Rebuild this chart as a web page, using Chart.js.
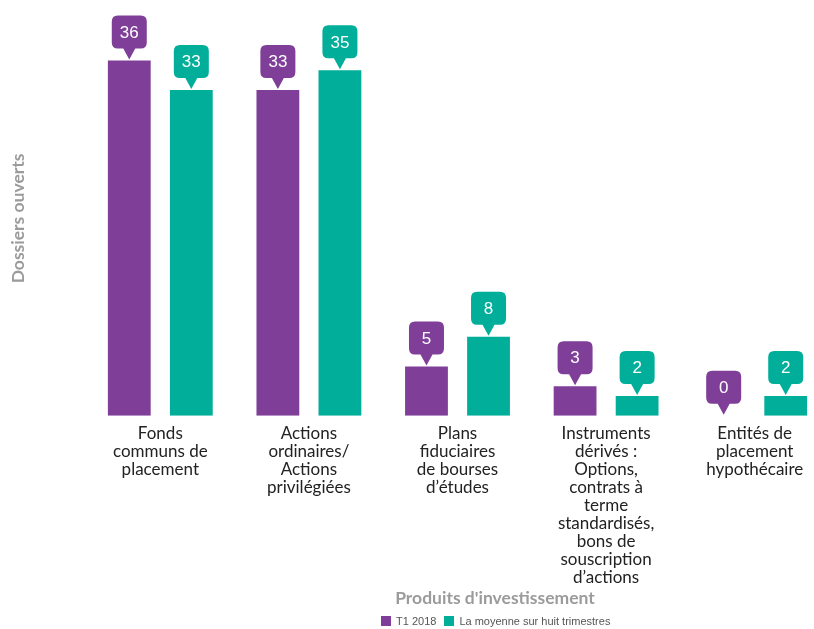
<!DOCTYPE html>
<html lang="fr">
<head>
<meta charset="utf-8">
<script src="https://cdn.jsdelivr.net/npm/chart.js@4.4.1/dist/chart.umd.min.js"></script>
<style>
    html, body { margin: 0; padding: 0; background: #fff; overflow: hidden; }
    #wrap { position: relative; width: 814px; height: 629px; overflow: hidden; }
    #chart { position: absolute; left: 0; top: 0; }
    #x-title {
        position: absolute; left: 395px; width: 200px; top: 587px;
        text-align: center; font: bold 17.5px Lato, sans-serif; color: #9b9b9b;
        white-space: nowrap;
    }
    #legend {
        position: absolute; left: 381px; top: 615px;
        font: 11px "Liberation Sans", Arial, sans-serif; color: #555;
        display: flex; align-items: center; white-space: nowrap;
    }
    #legend span.box { display: inline-block; width: 10px; height: 10px; margin-right: 5px; }
    #legend span.item { display: flex; align-items: center; margin-right: 8px; }
</style>
</head>
<body>
<div id="wrap">
    <canvas id="chart" width="840" height="629"></canvas>
    <div id="x-title">Produits d'investissement</div>
    <div id="legend"></div>
</div>
<script>
// Categories and series
const categories = [
    ["Fonds", "communs de", "placement"],
    ["Actions", "ordinaires/", "Actions", "privilégiées"],
    ["Plans", "fiduciaires", "de bourses", "d’études"],
    ["Instruments", "dérivés :", "Options,", "contrats à", "terme", "standardisés,", "bons de", "souscription", "d’actions"],
    ["Entités de", "placement", "hypothécaire"]
];
const seriesNames = ["T1 2018", "La moyenne sur huit trimestres"];
const q1Values = [36, 33, 5, 3, 0];
const avgValues = [33, 35, 8, 2, 2];
const colors = ["#7f3f98", "#00ae9a"];

// Callout bubble above each bar with its value
const calloutPlugin = {
    id: 'callouts',
    afterDatasetsDraw(chart) {
        const ctx = chart.ctx;
        const w = 35, h = 33, r = 6, tipH = 11, tipW = 12;
        chart.data.datasets.forEach((ds, di) => {
            const meta = chart.getDatasetMeta(di);
            meta.data.forEach((bar, i) => {
                const x = bar.x;
                const tipY = bar.y - 1;
                const bottom = tipY - tipH;
                const top = bottom - h;
                const left = x - w / 2;
                ctx.save();
                ctx.fillStyle = ds.backgroundColor;
                ctx.beginPath();
                ctx.moveTo(left + r, top);
                ctx.lineTo(left + w - r, top);
                ctx.quadraticCurveTo(left + w, top, left + w, top + r);
                ctx.lineTo(left + w, bottom - r);
                ctx.quadraticCurveTo(left + w, bottom, left + w - r, bottom);
                ctx.lineTo(x + tipW / 2, bottom);
                ctx.lineTo(x, tipY);
                ctx.lineTo(x - tipW / 2, bottom);
                ctx.lineTo(left + r, bottom);
                ctx.quadraticCurveTo(left, bottom, left, bottom - r);
                ctx.lineTo(left, top + r);
                ctx.quadraticCurveTo(left, top, left + r, top);
                ctx.closePath();
                ctx.fill();
                ctx.fillStyle = '#ffffff';
                ctx.font = '17px "Liberation Sans", Arial, sans-serif';
                ctx.textAlign = 'center';
                ctx.textBaseline = 'middle';
                ctx.fillText(String(ds.data[i]), x, (top + bottom) / 2 + 1);
                ctx.restore();
            });
        });
    }
};

const chart = new Chart(document.getElementById('chart'), {
    type: 'bar',
    data: {
        labels: categories,
        datasets: [
            { label: seriesNames[0], data: q1Values, backgroundColor: colors[0] },
            { label: seriesNames[1], data: avgValues, backgroundColor: colors[1] }
        ]
    },
    options: {
        responsive: false,
        animation: false,
        categoryPercentage: 0.835,
        barPercentage: 0.69,
        layout: { padding: { left: 8, right: 11, top: 21, bottom: 41 } },
        plugins: {
            legend: { display: false },
            tooltip: { enabled: false }
        },
        scales: {
            x: {
                grid: { display: false },
                border: { display: false },
                ticks: {
                    color: '#222',
                    padding: 1,
                    maxRotation: 0,
                    autoSkip: false,
                    font: { family: 'Lato', size: 17, lineHeight: 1.06 }
                }
            },
            y: {
                min: 0,
                max: 40,
                grid: { display: false },
                border: { display: false },
                ticks: { display: false },
                title: {
                    display: true,
                    text: 'Dossiers ouverts',
                    color: '#9b9b9b',
                    font: { family: 'Lato', size: 17.5, weight: 'bold' },
                    padding: { top: 0, bottom: 0 }
                },
                afterFit(scale) { scale.width = 78; }
            }
        }
    },
    plugins: [calloutPlugin]
});

// Legend below the chart
const legendEl = document.getElementById('legend');
seriesNames.forEach((name, i) => {
    const item = document.createElement('span');
    item.className = 'item';
    item.innerHTML = '<span class="box" style="background:' + colors[i] + '"></span>' + name;
    legendEl.appendChild(item);
});
</script>
</body>
</html>
